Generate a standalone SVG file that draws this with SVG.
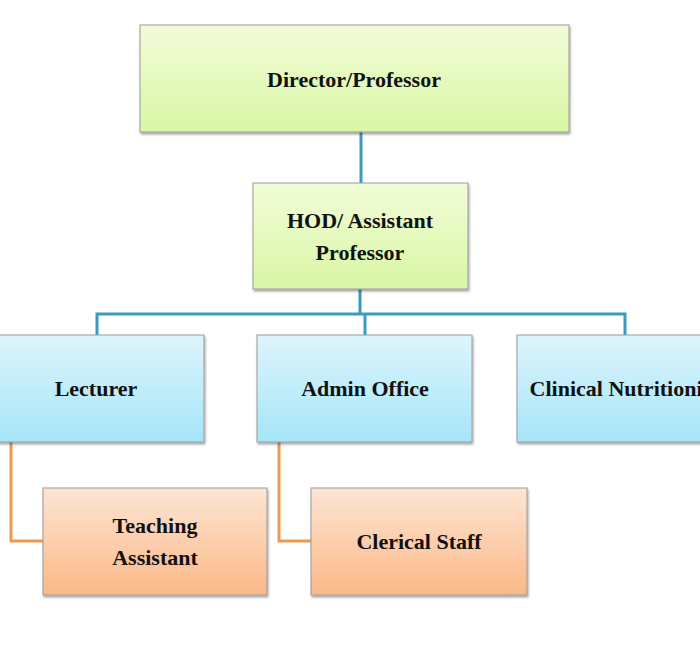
<svg xmlns="http://www.w3.org/2000/svg" width="700" height="660" viewBox="0 0 700 660">
<defs>
<linearGradient id="gGreen" x1="0" y1="0" x2="0" y2="1"><stop offset="0" stop-color="#f2fcd9"/><stop offset="1" stop-color="#d8f7a3"/></linearGradient>
<linearGradient id="gBlue" x1="0" y1="0" x2="0" y2="1"><stop offset="0" stop-color="#ddf5fc"/><stop offset="1" stop-color="#a5e5f9"/></linearGradient>
<linearGradient id="gOrange" x1="0" y1="0" x2="0" y2="1"><stop offset="0" stop-color="#fde5d4"/><stop offset="1" stop-color="#fbb887"/></linearGradient>
<filter id="sh" x="-5%" y="-5%" width="115%" height="120%"><feDropShadow dx="1" dy="2" stdDeviation="1.2" flood-color="#000" flood-opacity="0.35"/></filter>
</defs>
<style>
.box{stroke:#9a9a9a;stroke-width:1;filter:url(#sh)}
.g{fill:url(#gGreen)}
.b{fill:url(#gBlue)}
.o{fill:url(#gOrange)}
text{font-family:"Liberation Serif","Times New Roman",serif;font-weight:bold;font-size:22px;fill:#111;text-anchor:middle}
.cb{fill:none;stroke:#3a9cbf;stroke-width:3}
.co{fill:none;stroke:#eb9a52;stroke-width:3}
</style>
<rect width="700" height="660" fill="#fff"/>
<g id="connectors">
<line class="cb" x1="361" y1="132" x2="361" y2="183"/>
<path class="cb" d="M360 289 V314 M97 335 V314 H625 V335 M365 314 V335"/>
<path class="co" d="M11 442 V541 H43"/>
<path class="co" d="M279 442 V541 H311"/>
</g>
<g id="director"><rect class="box g" x="140" y="25" width="429" height="107"/><text x="354" y="87">Director/Professor</text></g>
<g id="hod"><rect class="box g" x="253" y="183" width="215" height="106"/><text x="360" y="228">HOD/ Assistant</text><text x="360" y="260">Professor</text></g>
<g id="lecturer"><rect class="box b" x="-11" y="335" width="215" height="107"/><text x="96" y="396">Lecturer</text></g>
<g id="admin"><rect class="box b" x="257" y="335" width="215" height="107"/><text x="365" y="396">Admin Office</text></g>
<g id="clinical"><rect class="box b" x="517" y="335" width="215" height="107"/><text x="624" y="396">Clinical Nutritionist</text></g>
<g id="teaching"><rect class="box o" x="43" y="488" width="224" height="107"/><text x="155" y="533">Teaching</text><text x="155" y="565">Assistant</text></g>
<g id="clerical"><rect class="box o" x="311" y="488" width="216" height="107"/><text x="419" y="549">Clerical Staff</text></g>
</svg>
